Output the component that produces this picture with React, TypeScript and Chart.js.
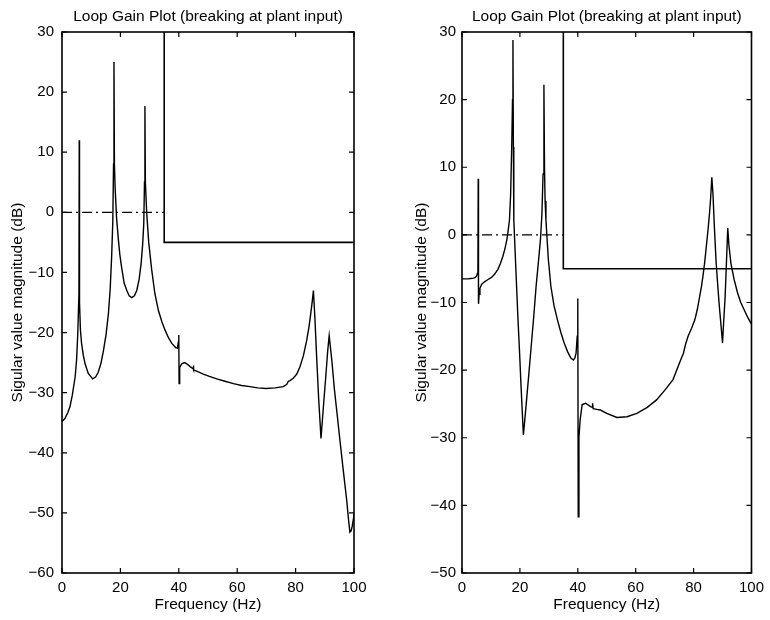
import React, { useEffect, useRef } from "react";
import { Chart, registerables } from "chart.js";

Chart.register(...registerables);

const titleText = "Loop Gain Plot (breaking at plant input)";
const xLabel = "Frequency (Hz)";
const yLabel = "Sigular value magnitude (dB)";

const xTicks = [0, 20, 40, 60, 80, 100];
const leftYTicks = [-60, -50, -40, -30, -20, -10, 0, 10, 20, 30];
const rightYTicks = [-50, -40, -30, -20, -10, 0, 10, 20, 30];

const leftFreq = [
  0, 1, 2, 2.7, 3.5, 4.5, 5.0, 5.4, 5.8, 5.9, 6.0, 6.3, 6.7, 7.3, 7.9, 9.0, 10.5, 11.5, 12.4, 13.3,
  14.2, 15.1, 15.9, 16.5, 17.0, 17.4, 17.65, 17.8, 17.95, 18.2, 18.7, 19.3, 19.8, 20.4, 21.3, 22.2, 23.0,
  23.9, 24.8, 25.6, 26.4, 27.1, 27.6, 28.0, 28.25, 28.4, 28.55, 29.0, 29.7, 30.7, 31.8, 33, 34.2,
  35.3, 36.5, 37.6, 38.9, 39.5, 39.9, 40.0, 40.1, 40.3, 41.0, 42.0, 42.7, 44.0, 44.9, 45.0, 45.1,
  46.5, 48.4, 50.5, 53, 55.8, 58.7, 61.5, 64.4, 67, 70, 73, 75.8, 77, 77.5, 78.1, 79.2, 80.4, 81.5,
  82.7, 83.8, 84.6, 85.2, 85.7, 86.1, 86.6, 87.2, 87.9, 88.7, 89.5, 90.4, 91.0, 91.5, 92.4, 93.3,
  94.2, 95.2, 96.3, 97.5, 98.1, 98.6, 99.0, 99.4, 99.8, 100,
];
const leftMag = [
  -34.8, -34.3, -33.3, -32.4, -30.5, -27.4, -24.5, -20.2, -13.5, 12, -15, -19.5, -21.8, -23.8, -25.2,
  -26.8, -27.7, -27.4, -26.6, -25.2, -23, -20.3, -16.8, -12.8, -7.4, -1.5, 8, 25, 8, 4, -1, -4.5,
  -7, -9.1, -11.8, -13, -13.9, -14.2, -13.9, -13, -11.2, -8.5, -5.5, -1.9, 5, 17.7, 5, 0, -5, -9.5,
  -13.5, -16.3, -18.2, -19.6, -20.9, -21.8, -22.5, -22.6, -21.5, -20.4, -28.5, -25.8, -25.2, -25.0,
  -25.2, -25.7, -26.0, -25.5, -26.2, -26.5, -26.9, -27.3, -27.7, -28.1, -28.5, -28.8, -29.0, -29.2,
  -29.3, -29.2, -29.0, -28.6, -28.1, -28.0, -27.6, -26.9, -25.7, -23.8, -21.3, -19, -16.8, -14.8,
  -13, -17.5, -24, -31, -37.6, -32.5, -26.9, -23, -20.5, -24.6, -29.5, -33.5, -38, -42.8, -47.9,
  -51, -53.2, -53, -52.2, -51, -50.2,
];

const rightFreq = [
  0, 1, 2, 3, 4, 4.6, 5.0, 5.3, 5.5, 5.6, 5.7, 5.9, 6.2, 6.8, 7.9, 9, 10.2, 11.3, 12.4, 13.3, 14.1,
  14.8, 15.5, 16.0, 16.4, 16.8, 17.2, 17.45, 17.6, 17.75, 17.9, 18.6, 19.3, 19.9, 20.4, 20.8, 21.2,
  21.6, 22.1, 23.0, 23.9, 24.8, 25.6, 26.4, 27.1, 27.6, 28.0, 28.3, 28.5, 28.7, 29.0, 29.8, 30.7,
  31.8, 33, 34.2, 35.3, 36.5, 37.6, 38.5, 39.0, 39.4, 39.8, 40.0, 40.15, 40.4, 40.8, 41.5, 42.7, 44.4,
  45.0, 45.1, 45.3, 46.5, 47.8, 50, 53.5, 57, 60.4, 64, 67.2, 70, 72.9, 75.8, 76.5, 77.2, 78.1, 79.3,
  80.4, 81.3, 82.1, 82.7, 83.2, 83.8, 84.4, 85.0, 85.5, 85.9, 86.3, 86.7, 87.2, 87.8, 88.4, 88.9,
  89.5, 90.0, 90.4, 90.9, 91.4, 91.8, 92.2, 92.9, 94.0, 95.2, 96.3, 97.5, 98.7, 100,
];
const rightMag = [
  -6.5, -6.5, -6.5, -6.45, -6.4, -6.3, -6.1, -5.7, -5.0, 8.3, -10.2, -8.8, -7.9, -7.3, -6.9, -6.6,
  -6.3, -5.8, -5.1, -4.2, -3.2, -2.1, -0.7, 0.8, 2.2, 6, 13.6, 20, 28.8, 13, 2.2, -5, -12.1, -17.5,
  -22.4, -26, -29.6, -27.8, -25.4, -21, -16.5, -12, -7.6, -4, -0.7, 3, 9, 22.2, 10, 5, 2.2, -3.5,
  -7.6, -10.5, -12.6, -14.5, -16, -17.3, -18.2, -18.5, -18.2, -17.5, -15, -9.4, -41.7, -30, -27.4,
  -25.1, -24.9, -25.4, -25.5, -24.9, -25.7, -25.8, -25.9, -26.4, -27, -26.9, -26.4, -25.5, -24.4,
  -23, -21.4, -18.2, -17.5, -16.2, -15, -13.8, -12.6, -11, -9.1, -7.7, -6.2, -4.2, -1.7, 0.8, 3.2,
  5.5, 8.5, 6, 1, -4.2, -7.8, -10.6, -13.5, -16, -12.8, -9.1, -3.5, 1.0, -1.5, -4.2, -6.6, -8.6, -10,
  -11.1, -12.2, -13.2,
];

const boundFreq = [35, 35, 100];
const boundMag = [30, -5, -5];
const refFreq = [0, 35];
const refMag = [0, 0];

const FONT = "'Liberation Sans', Arial, Helvetica, sans-serif";

const toPoints = (xs: number[], ys: number[]) => xs.map((x, i) => ({ x, y: ys[i] }));
const fmt = (v: number) => (v < 0 ? "\u2212" + Math.abs(v) : String(v));

const framePlugin = {
  id: "matlabFrame",
  afterDatasetsDraw(chart: any) {
    const { ctx, chartArea: a, scales } = chart;
    const L = 5;
    ctx.save();
    ctx.strokeStyle = "#000";
    ctx.lineWidth = 1.6;
    ctx.strokeRect(a.left, a.top, a.right - a.left, a.bottom - a.top);
    ctx.lineWidth = 1.2;
    ctx.beginPath();
    scales.x.ticks.forEach((t: any) => {
      const p = scales.x.getPixelForValue(t.value);
      ctx.moveTo(p, a.bottom);
      ctx.lineTo(p, a.bottom - L);
      ctx.moveTo(p, a.top);
      ctx.lineTo(p, a.top + L);
    });
    scales.y.ticks.forEach((t: any) => {
      const p = scales.y.getPixelForValue(t.value);
      ctx.moveTo(a.left, p);
      ctx.lineTo(a.left + L, p);
      ctx.moveTo(a.right, p);
      ctx.lineTo(a.right - L, p);
    });
    ctx.stroke();
    ctx.restore();
  },
};

type PanelProps = {
  freq: number[];
  mag: number[];
  yTicks: number[];
  yAxisWidth: number;
  rightPad: number;
  yTitlePad: number;
  yTickPad: number;
};

function Panel({ freq, mag, yTicks, yAxisWidth, rightPad, yTitlePad, yTickPad }: PanelProps) {
  const ref = useRef<HTMLCanvasElement | null>(null);
  useEffect(() => {
    if (!ref.current) return;
    const chart = new Chart(ref.current, {
      type: "line",
      data: {
        datasets: [
          {
            data: toPoints(freq, mag),
            borderColor: "#000",
            borderWidth: 1.4,
            pointRadius: 0,
            tension: 0,
            fill: false,
          },
          {
            data: toPoints(boundFreq, boundMag),
            borderColor: "#000",
            borderWidth: 1.6,
            pointRadius: 0,
            tension: 0,
            fill: false,
          },
          {
            data: toPoints(refFreq, refMag),
            borderColor: "#000",
            borderWidth: 1.2,
            borderDash: [10, 4, 2, 4],
            pointRadius: 0,
            tension: 0,
            fill: false,
          },
        ],
      },
      options: {
        animation: false,
        responsive: false,
        events: [],
        layout: { padding: { left: 0, right: rightPad, top: 0, bottom: 0 } },
        plugins: {
          legend: { display: false },
          tooltip: { enabled: false },
          title: {
            display: true,
            text: titleText,
            color: "#000",
            fullSize: false,
            font: { family: FONT, size: 15.5, weight: "normal" },
            padding: { top: 7, bottom: 6.4 },
          },
        },
        scales: {
          x: {
            type: "linear",
            min: xTicks[0],
            max: xTicks[xTicks.length - 1],
            afterBuildTicks: (s: any) => {
              s.ticks = xTicks.map((v) => ({ value: v }));
            },
            afterFit: (s: any) => {
              s.height = 47;
            },
            grid: { display: false, drawTicks: false },
            border: { display: false },
            ticks: {
              color: "#000",
              font: { family: FONT, size: 15 },
              padding: 6,
              maxRotation: 0,
              autoSkip: false,
              callback: (v: any) => fmt(Number(v)),
            },
            title: {
              display: true,
              text: xLabel,
              color: "#000",
              font: { family: FONT, size: 15.5 },
              padding: { top: 0, bottom: 5.7 },
            },
          },
          y: {
            type: "linear",
            min: yTicks[0],
            max: yTicks[yTicks.length - 1],
            afterBuildTicks: (s: any) => {
              s.ticks = yTicks.map((v) => ({ value: v }));
            },
            afterFit: (s: any) => {
              s.width = yAxisWidth;
            },
            grid: { display: false, drawTicks: false },
            border: { display: false },
            ticks: {
              color: "#000",
              font: { family: FONT, size: 15 },
              padding: yTickPad,
              autoSkip: false,
              callback: (v: any) => fmt(Number(v)),
            },
            title: {
              display: true,
              text: yLabel,
              color: "#000",
              font: { family: FONT, size: 15.5 },
              padding: { top: yTitlePad, bottom: 0 },
            },
          },
        },
      },
      plugins: [framePlugin],
    } as any);
    return () => chart.destroy();
  }, []);
  return <canvas ref={ref} width={385} height={620} style={{ display: "block" }} />;
}

export default function App() {
  return (
    <div
      style={{
        position: "fixed",
        left: 0,
        top: 0,
        width: 770,
        height: 620,
        background: "#fff",
      }}
    >
      <div style={{ position: "absolute", left: 0, top: 0, width: 385, height: 620 }}>
        <Panel
          freq={leftFreq}
          mag={leftMag}
          yTicks={leftYTicks}
          yAxisWidth={62}
          rightPad={31}
          yTitlePad={8.5}
          yTickPad={8}
        />
      </div>
      <div style={{ position: "absolute", left: 385, top: 0, width: 385, height: 620 }}>
        <Panel
          freq={rightFreq}
          mag={rightMag}
          yTicks={rightYTicks}
          yAxisWidth={77}
          rightPad={16}
          yTitlePad={27}
          yTickPad={6}
        />
      </div>
    </div>
  );
}
